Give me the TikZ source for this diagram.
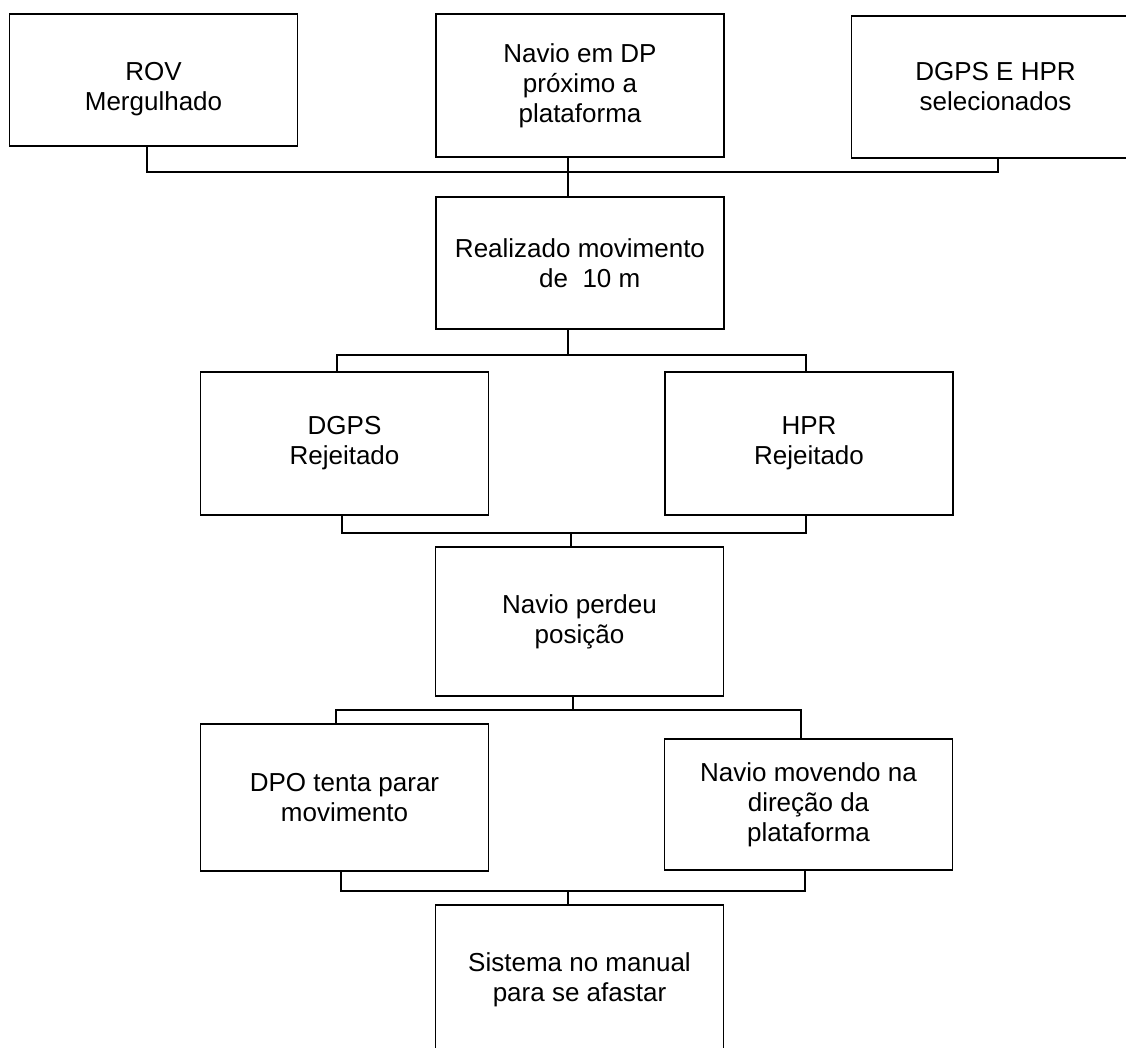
\documentclass[tikz,border=0pt]{standalone}
\usepackage{fontspec}
\setmainfont{Liberation Sans}
\usetikzlibrary{positioning}

\begin{document}
\begin{tikzpicture}[x=0.5pt,y=-0.5pt,line width=0.9pt]
\tikzstyle{evento}=[draw,rectangle,fill=white,minimum width=144pt,inner sep=2pt,text=black,align=center,font=\fontsize{13pt}{15pt}\selectfont]

\useasboundingbox (0,0) rectangle (1126,1048);
\fill[white] (0,0) rectangle (1126,1048);

%\node[evento] (X) at (0,0) {};
\node[evento,minimum height=71.5pt] (NavDP) at (580,85.5) {Navio em DP\\próximo a\\plataforma};
\node[evento,minimum height=66pt]   (ROV)  [left of=NavDP,node distance=213.25pt,yshift=2.75pt] {\mbox{}\\[3pt]ROV\\Mergulhado};
\node[evento,minimum height=71pt]   (DGHP) [right of=NavDP,node distance=207.75pt,yshift=-0.75pt] {DGPS E HPR\\selecionados};
\node[evento,minimum height=66pt]   (Real) [below of=NavDP,node distance=88.75pt] {Realizado movimento\\\hspace*{0.75em}de\ \ 10 m};
\node[evento,minimum height=71.5pt] (DRej) at (344.5,443.5) {DGPS\\Rejeitado};
\node[evento,minimum height=71.5pt] (HRej) [right of=DRej,node distance=232.25pt] {HPR\\Rejeitado};
\node[evento,minimum height=74.5pt] (Perd) at (579.5,621.5) {Navio perdeu\\posição};
\node[evento,minimum height=73.5pt] (DPO)  at (344.5,797.5) {DPO tenta parar\\movimento};
\node[evento,minimum height=65.5pt] (NMov) [right of=DPO,node distance=232pt,yshift=-3.5pt] {Navio movendo na\\direção da\\plataforma};
\node[evento,minimum height=75pt]   (Sist) [below of=Perd,node distance=179.25pt] {Sistema no manual\\para se afastar};

\coordinate (j1) at (568,172);
\coordinate (j2) at (568,355);
\coordinate (j3) at (571,533);
\coordinate (j4) at (573,710);
\coordinate (j5) at (568,891);

\draw ([xshift=-3.25pt]ROV.south) |- (j1) -| ([xshift=1.25pt]DGHP.south);
\draw (j1 |- NavDP.south) -- (j1 |- Real.north);
\draw (j2 |- Real.south) -- (j2);
\draw ([xshift=-3.9pt]DRej.north) |- (j2) -| ([xshift=-1.5pt]HRej.north);
\draw ([xshift=-1.25pt]DRej.south) |- (j3) -| ([xshift=-1.5pt]HRej.south);
\draw (j3) -- (j3 |- Perd.north);
\draw (j4 |- Perd.south) -- (j4);
\draw ([xshift=-4.25pt]DPO.north) |- (j4) -| ([xshift=-3.75pt]NMov.north);
\draw ([xshift=-1.75pt]DPO.south) |- (j5) -| ([xshift=-1.75pt]NMov.south);
\draw (j5) -- (j5 |- Sist.north);
\end{tikzpicture}
\end{document}
